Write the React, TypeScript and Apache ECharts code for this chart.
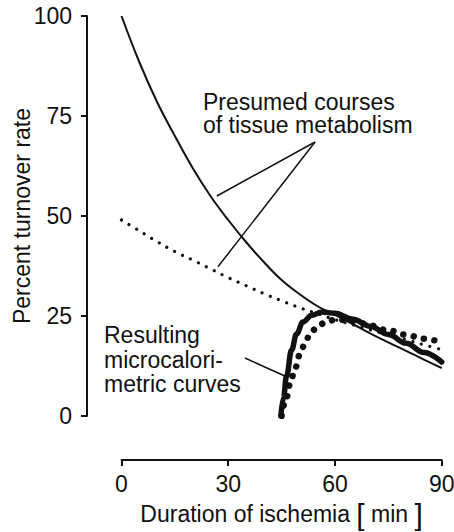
import React, { useEffect, useRef } from "react";
import * as echarts from "echarts";

// Presumed course of tissue metabolism (solid, thin)
const presumedSolidT = [0, 5, 10, 15, 20, 25, 30, 35, 40, 45, 50, 55, 60, 65, 70, 75, 80, 85, 90];
const presumedSolidV = [100, 88.5, 78.5, 70, 62, 55, 49, 43.5, 38.5, 34, 30.5, 27.5, 25.3, 23, 20.6, 18.4, 16.3, 14.1, 12];

// Presumed course of tissue metabolism (dotted, small dots)
const presumedDottedT = [0, 5, 10, 15, 20, 25, 30, 35, 40, 45, 50, 55, 60, 65, 70, 75, 80, 85, 90];
const presumedDottedV = [49, 46.3, 43.6, 41.1, 39, 36.8, 34.6, 32.6, 30.6, 28.8, 27.1, 25.6, 24.1, 22.8, 21.5, 20.3, 19.1, 17.8, 16.6];

// Resulting microcalorimetric curve (thick solid)
const microSolidT = [44.8, 45.5, 46.4, 47.8, 49.2, 51, 53.5, 56.3, 60, 65, 70, 75, 80, 85, 90];
const microSolidV = [0, 4.5, 10, 16.5, 20.5, 23.5, 25.2, 26, 25.7, 24.2, 22.4, 20.4, 18.2, 15.9, 13.5];

// Resulting microcalorimetric curve (big dots)
const microDottedT = [45, 46.2, 47.4, 48.8, 50.2, 51.5, 53, 55, 57.5, 60.5, 63.3, 66.6, 70, 75, 80, 85, 90];
const microDottedV = [0, 4, 8, 12, 15.5, 18, 20.5, 22.3, 23.5, 24.2, 23.9, 23.4, 22.6, 21.4, 20.3, 19.3, 18.4];

const xTicks = [0, 30, 60, 90];
const yTicks = [0, 25, 50, 75, 100];

const FONT = '"Liberation Sans", Arial, Helvetica, sans-serif';
const INK = "#111";

const zip = (t: number[], v: number[]) => t.map((x, i) => [x, v[i]]);

export default function App() {
  const ref = useRef<HTMLDivElement>(null);
  useEffect(() => {
    if (!ref.current) return;
    const chart = echarts.init(ref.current, undefined, { renderer: "svg" });
    const option: any = {
      animation: false,
      backgroundColor: "#fff",
      grid: {
        left: 121.5,
        right: 12.3,
        top: 16,
        bottom: 116,
        containLabel: false,
        outerBoundsMode: "none",
      },
      xAxis: {
        type: "value",
        min: xTicks[0],
        max: xTicks[xTicks.length - 1],
        interval: 30,
        offset: 44,
        splitLine: { show: false },
        axisLine: { show: true, onZero: false, lineStyle: { color: INK, width: 2 } },
        axisTick: { show: true, length: 6, lineStyle: { color: INK, width: 2 } },
        axisLabel: { color: INK, fontSize: 23, fontFamily: FONT, margin: 12 },
        name: "{t|Duration of ischemia }{b|[}{t| min }{b|]}",
        nameLocation: "middle",
        nameGap: 39,
        nameMoveOverlap: false,
        nameTextStyle: {
          color: INK,
          fontFamily: FONT,
          rich: {
            t: { fontSize: 23, fontFamily: FONT, color: INK },
            b: { fontSize: 30, fontFamily: FONT, color: INK },
          },
        },
      },
      yAxis: {
        type: "value",
        min: yTicks[0],
        max: yTicks[yTicks.length - 1],
        interval: 25,
        offset: 34.5,
        splitLine: { show: false },
        axisLine: { show: true, onZero: false, lineStyle: { color: INK, width: 2 } },
        axisTick: { show: true, length: 6, lineStyle: { color: INK, width: 2 } },
        axisLabel: { color: INK, fontSize: 23, fontFamily: FONT, margin: 15 },
        name: "Percent turnover rate",
        nameLocation: "middle",
        nameGap: 54,
        nameMoveOverlap: false,
        nameTextStyle: { color: INK, fontSize: 23, fontFamily: FONT },
      },
      series: [
        {
          type: "line",
          name: "Presumed (solid)",
          data: zip(presumedSolidT, presumedSolidV),
          smooth: 0.4,
          showSymbol: false,
          symbol: "none",
          lineStyle: { color: INK, width: 2 },
          z: 3,
        },
        {
          type: "line",
          name: "Presumed (dotted)",
          data: zip(presumedDottedT, presumedDottedV),
          smooth: 0.4,
          showSymbol: false,
          symbol: "none",
          lineStyle: { color: INK, width: 3.2, type: [0.01, 8.8], cap: "round" },
          z: 3,
        },
        {
          type: "line",
          name: "Microcalorimetric (solid)",
          data: zip(microSolidT, microSolidV),
          smooth: 0.4,
          smoothMonotone: "x",
          showSymbol: false,
          symbol: "none",
          lineStyle: { color: INK, width: 5.5, cap: "round", join: "round" },
          z: 4,
        },
        {
          type: "line",
          name: "Microcalorimetric (dotted)",
          data: zip(microDottedT, microDottedV),
          smooth: 0.4,
          smoothMonotone: "x",
          showSymbol: false,
          symbol: "none",
          lineStyle: { color: INK, width: 6.5, type: [0.01, 10.5], cap: "round" },
          z: 4,
        },
      ],
    };
    chart.setOption(option);

    const px = (t: number, v: number) => chart.convertToPixel({ gridIndex: 0 }, [t, v]) as number[];
    const seg = (a: number[], b: number[], w = 1.5) => {
      const p = px(a[0], a[1]);
      const q = px(b[0], b[1]);
      return {
        type: "line",
        shape: { x1: p[0], y1: p[1], x2: q[0], y2: q[1] },
        style: { stroke: INK, lineWidth: w },
        silent: true,
        z: 10,
      };
    };
    const label = (text: string, left: number, top: number) => ({
      type: "text",
      left,
      top,
      silent: true,
      style: { text, font: `23px ${FONT}`, fill: INK, lineHeight: 22 },
    });
    const apex = [54.4, 68.5];
    chart.setOption({
      graphic: [
        seg(apex, [26.8, 55]),
        seg(apex, [27.1, 37.3]),
        seg([34.7, 14.5], [45.9, 10]),
        label("Presumed courses", 203, 90.5),
        label("of tissue metabolism", 203, 113),
        label("Resulting", 104, 323.5),
        label("microcalori-", 104, 348),
        label("metric curves", 104, 372.5),
      ],
    });

    return () => chart.dispose();
  }, []);
  return (
    <div
      ref={ref}
      style={{ position: "fixed", left: 0, top: 0, width: 454, height: 532, background: "#fff" }}
    />
  );
}
